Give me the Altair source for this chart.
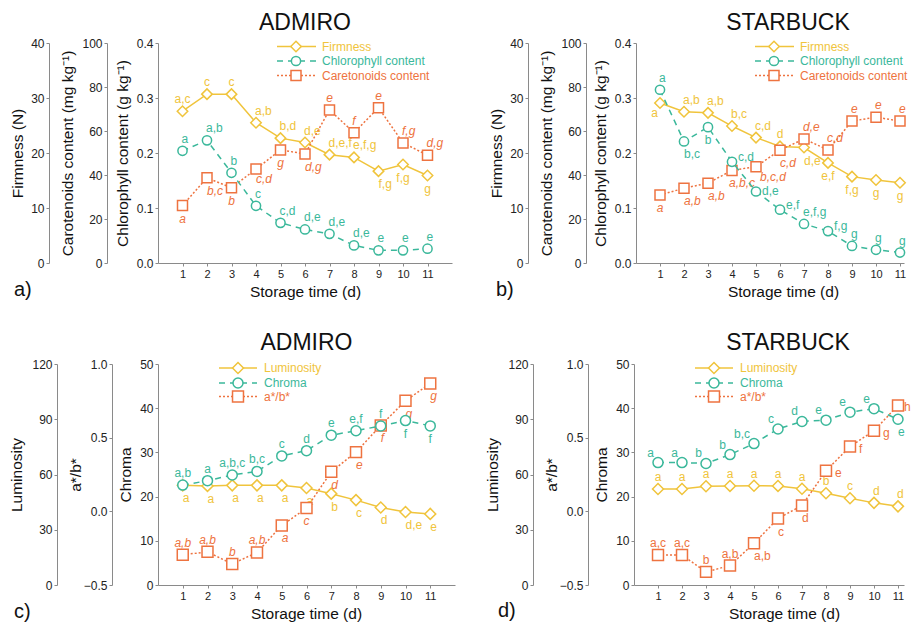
import altair as alt
import pandas as pd

days = list(range(1, 12))

# ---------------- Panel a: ADMIRO (firmness / chlorophyll / carotenoids)
a_firm = [27.6, 30.7, 30.7, 25.5, 22.7, 21.9, 19.7, 19.2, 16.7, 17.9, 15.9]
a_firm_lab = ["a,c", "c", "c", "a,b", "b,d", "d,e", "d,e,f", "e,f,g", "f,g", "f,g", "g"]
a_firm_pos = ["t", "t", "t", "tr", "tr", "tr", "tr", "tr", "br", "b", "b"]
a_chl = [0.204, 0.223, 0.164, 0.104, 0.073, 0.061, 0.053, 0.032, 0.023, 0.023, 0.026]
a_chl_lab = ["a", "a,b", "b", "c", "c,d", "d,e", "d,e", "d,e", "e", "e", "e"]
a_chl_pos = ["tr"] * 11
a_car = [26.1, 38.7, 34.2, 42.7, 51.4, 49.6, 69.6, 59.2, 70.6, 54.6, 49.0]
a_car_lab = ["a", "b,c", "b", "c,d", "g", "d,g", "e", "f", "e", "f,g", "d,g"]
a_car_pos = ["b", "br", "b", "br2", "b", "br", "t", "t", "t", "tr", "tr"]

# ---------------- Panel b: STARBUCK
b_firm = [29.1, 27.5, 27.3, 24.9, 22.8, 21.2, 21.0, 18.2, 15.7, 15.1, 14.6]
b_firm_lab = ["a", "a,b", "a,b", "b,c", "c,d", "d", "d,e", "e,f", "f,g", "g", "g"]
b_firm_pos = ["bl", "tr", "tr", "tr", "tr", "t", "br", "b", "b", "b", "b"]
b_chl = [0.315, 0.221, 0.247, 0.184, 0.130, 0.097, 0.071, 0.058, 0.031, 0.024, 0.019]
b_chl_lab = ["a", "b,c", "b", "c,d", "d,e", "e,f", "e,f,g", "f,g", "g", "g", "g"]
b_chl_pos = ["tr", "br", "b", "r", "r2", "r", "tr", "r", "tr", "tr", "tr"]
b_car = [30.9, 34.0, 36.3, 42.1, 43.8, 51.3, 56.4, 51.4, 64.5, 66.3, 64.5]
b_car_lab = ["a", "a,b", "a,b", "a,b,c", "b,c,d", "c,d", "d,e", "c,d", "e", "e", "e"]
b_car_pos = ["b", "br", "br", "bl2", "br3", "br", "tr", "tr", "tr", "tr", "tr"]

# ---------------- Panel c: ADMIRO (luminosity / chroma / a*/b*)
c_lum = [54.1, 53.8, 54.1, 54.1, 54.1, 52.7, 49.6, 46.1, 42.1, 39.6, 38.6]
c_lum_lab = ["a", "a", "a", "a", "a", "a", "b", "c", "d", "d,e", "e"]
c_lum_pos = ["br"] * 11
c_chr = [22.6, 23.6, 24.9, 25.7, 29.2, 30.4, 33.9, 34.9, 36.0, 37.2, 36.0]
c_chr_lab = ["a,b", "a", "a,b,c", "b,c", "c", "d", "e", "e,f", "f", "f", "f"]
c_chr_pos = ["t", "t", "t", "t", "t", "t", "t", "t", "t", "b", "b"]
c_ab = [-0.295, -0.275, -0.357, -0.279, -0.096, 0.022, 0.268, 0.402, 0.583, 0.750, 0.868]
c_ab_lab = ["a,b", "a,b", "b", "a,b", "a", "c", "d", "e", "f", "g", "g"]
c_ab_pos = ["t", "t", "t", "t", "br", "b", "br", "br", "br", "br", "br"]

# ---------------- Panel d: STARBUCK
d_lum = [52.1, 52.1, 53.6, 53.8, 53.9, 53.8, 52.3, 49.8, 47.1, 44.6, 42.7]
d_lum_lab = ["a", "a", "a", "a", "a", "a", "a", "b", "c", "d", "d"]
d_lum_pos = ["t", "t", "t", "t", "t", "t", "t", "t", "t", "tr", "tr"]
d_chr = [27.7, 27.7, 27.5, 29.5, 32.0, 35.3, 37.0, 37.3, 39.1, 39.9, 37.5]
d_chr_lab = ["a", "a", "b", "b", "b,c", "c", "d", "e", "e", "e", "e"]
d_chr_pos = ["tl", "tl", "tl", "tl", "tl", "tl", "tl", "tl", "tl", "tl", "br"]
d_ab = [-0.297, -0.297, -0.411, -0.368, -0.217, -0.049, 0.040, 0.275, 0.440, 0.547, 0.719]
d_ab_lab = ["a,c", "a,c", "b", "a,b", "a,b", "c", "d", "e", "f", "g", "h"]
d_ab_pos = ["t", "t", "t", "t", "br", "br", "br", "R", "R", "R", "R2"]

top_legend = ["Firmness", "Chlorophyll content", "Caretonoids content"]
bottom_legend = ["Luminosity", "Chroma", "a*/b*"]

YEL, TEAL, ORA = "#F0C43C", "#3BB89B", "#EE7340"
FONT = "Liberation Sans"
DASH_TEAL = [6, 5]
DASH_ORA = [2, 2]

POS = {
    "t": dict(align="center", dx=0, dy=-12),
    "b": dict(align="center", dx=0, dy=13),
    "tr": dict(align="left", dx=-1, dy=-12),
    "br": dict(align="left", dx=0, dy=13),
    "br2": dict(align="left", dx=0, dy=10),
    "br3": dict(align="left", dx=4, dy=10),
    "bl2": dict(align="left", dx=-3, dy=13),
    "tl": dict(align="right", dx=-4, dy=-10),
    "bl": dict(align="right", dx=-2, dy=10),
    "r": dict(align="left", dx=6, dy=-5),
    "r2": dict(align="left", dx=6, dy=-1),
    "R": dict(align="left", dx=9, dy=2),
    "R2": dict(align="left", dx=6, dy=2),
}


def series_layer(values, labels, pos, color, dash, shape, size, domain, ticks, fmt,
                 axis_title, offset, tpad, italic, xmax, title_x):
    df = pd.DataFrame({"day": days, "v": values, "lab": labels, "pos": pos})
    X = alt.X("day:Q", scale=alt.Scale(domain=[0, xmax], nice=False),
              axis=alt.Axis(values=days, title="Storage time (d)", titlePadding=5,
                            titleX=title_x, labelFontSize=11, grid=False))
    Y = alt.Y("v:Q", scale=alt.Scale(domain=domain, nice=False, zero=False),
              axis=alt.Axis(orient="left", offset=offset, values=ticks, format=fmt,
                            title=axis_title, titlePadding=tpad, grid=False))
    base = alt.Chart(df)
    line_kw = dict(color=color, strokeWidth=1.5)
    if dash:
        line_kw["strokeDash"] = dash
    layers = [
        base.mark_line(**line_kw).encode(x=X, y=Y),
        base.mark_point(shape=shape, size=size, filled=True, fill="white", stroke=color,
                        strokeWidth=1.5, opacity=1).encode(x=X, y=Y),
    ]
    for code in sorted(set(pos)):
        p = POS[code]
        layers.append(
            base.transform_filter(alt.datum.pos == code)
            .mark_text(align=p["align"], dx=p["dx"], dy=p["dy"], baseline="middle",
                       fontSize=12, color=color,
                       fontStyle="italic" if italic else "normal")
            .encode(x=X, y=Y, text="lab:N")
        )
    return alt.layer(*layers)


def legend_layers(names, sizes, x0, x1, xm, xt, ys):
    out = []
    styles = [(YEL, None, "diamond"), (TEAL, DASH_TEAL, "circle"), (ORA, DASH_ORA, "square")]
    for name, (c, d, s), sz, y in zip(names, styles, sizes, ys):
        b = alt.Chart(pd.DataFrame({"name": [name]}))
        rk = dict(color=c, strokeWidth=1.5)
        if d:
            rk["strokeDash"] = d
        out.append(b.mark_rule(**rk).encode(x=alt.value(x0), x2=alt.value(x1), y=alt.value(y)))
        out.append(b.mark_point(shape=s, size=sz, filled=True, fill="white", stroke=c,
                                strokeWidth=1.5, opacity=1)
                   .encode(x=alt.value(xm), y=alt.value(y)))
        out.append(b.mark_text(align="left", baseline="middle", fontSize=12, color=c)
                   .encode(x=alt.value(xt), y=alt.value(y), text="name:N"))
    return out


def text_layer(txt, x, y, size, align):
    return (alt.Chart(pd.DataFrame({"t": [txt]}))
            .mark_text(align=align, baseline="alphabetic", fontSize=size, color="#111")
            .encode(x=alt.value(x), y=alt.value(y), text="t:N"))


def top_panel(title, title_x, tag, tag_x, firm, firm_lab, firm_pos, chl, chl_lab, chl_pos,
              car, car_lab, car_pos, off_firm, off_car, W, xmax, xtitle_x):
    H = 220
    sizes = [110, 85, 100]
    layers = [
        series_layer(firm, firm_lab, firm_pos, YEL, None, "diamond", sizes[0], [0, 40],
                     [0, 10, 20, 30, 40], "d", "Firmness (N)", off_firm, 5, False,
                     xmax, xtitle_x),
        series_layer(car, car_lab, car_pos, ORA, DASH_ORA, "square", sizes[2], [0, 100],
                     [0, 20, 40, 60, 80, 100], "d", "Carotenoids content (mg kg\u207b\u00b9)",
                     off_car, 6, True, xmax, xtitle_x),
        series_layer(chl, chl_lab, chl_pos, TEAL, DASH_TEAL, "circle", sizes[1], [0, 0.4],
                     [0, 0.1, 0.2, 0.3, 0.4], ".1f", "Chlorophyll content (g kg\u207b\u00b9)",
                     0, 6, False, xmax, xtitle_x),
    ]
    layers += legend_layers(top_legend, sizes, 119, 158, 138, 164, [3.5, 18, 32.5])
    layers.append(text_layer(title, title_x, -13, 23, "center"))
    layers.append(text_layer(tag, tag_x, 253, 20, "left"))
    return alt.layer(*layers).resolve_scale(y="independent").properties(width=W, height=H)


def bottom_panel(title, title_x, tag, tag_x, tag_y, lum, lum_lab, lum_pos, chr_, chr_lab,
                 chr_pos, ab, ab_lab, ab_pos, ab_italic, W, xmax, xtitle_x):
    H = 221
    sizes = [120, 100, 120]
    layers = [
        series_layer(lum, lum_lab, lum_pos, YEL, None, "diamond", sizes[0], [0, 120],
                     [0, 30, 60, 90, 120], "d", "Luminosity", 101, 7, False, xmax, xtitle_x),
        series_layer(ab, ab_lab, ab_pos, ORA, DASH_ORA, "square", sizes[2], [-0.5, 1.0],
                     [-0.5, 0, 0.5, 1.0], ".1f", "a*/b*", 46, 0, ab_italic, xmax, xtitle_x),
        series_layer(chr_, chr_lab, chr_pos, TEAL, DASH_TEAL, "circle", sizes[1], [0, 50],
                     [0, 10, 20, 30, 40, 50], "d", "Chroma", 0, 6, False, xmax, xtitle_x),
    ]
    layers += legend_layers(bottom_legend, sizes, 61, 99, 80, 106, [4, 19, 32.5])
    layers.append(text_layer(title, title_x, -14, 23, "center"))
    layers.append(text_layer(tag, tag_x, tag_y, 20, "left"))
    return alt.layer(*layers).resolve_scale(y="independent").properties(width=W, height=H)


pa = top_panel("ADMIRO", 147, "a)", -144, a_firm, a_firm_lab, a_firm_pos, a_chl, a_chl_lab,
               a_chl_pos, a_car, a_car_lab, a_car_pos, 109, 51, 294, 12, 147)
pb = top_panel("STARBUCK", 152, "b)", -140, b_firm, b_firm_lab, b_firm_pos, b_chl, b_chl_lab,
               b_chl_pos, b_car, b_car_lab, b_car_pos, 108, 50, 268, 268 / 24.0, 147)
pc = bottom_panel("ADMIRO", 148.5, "c)", -144, 254, c_lum, c_lum_lab, c_lum_pos, c_chr,
                  c_chr_lab, c_chr_pos, c_ab, c_ab_lab, c_ab_pos, True, 297, 12, 148)
pd_ = bottom_panel("STARBUCK", 154, "d)", -136, 253, d_lum, d_lum_lab, d_lum_pos, d_chr,
                   d_chr_lab, d_chr_pos, d_ab, d_ab_lab, d_ab_pos, False, 270, 270 / 24.0,
                   150)

chart = (
    alt.vconcat(
        alt.hconcat(pa, pb, spacing=37),
        alt.hconcat(pc, pd_, spacing=30),
        spacing=32,
    )
    .properties(padding={"left": 1, "top": 4, "right": 0, "bottom": 0})
    .configure(font=FONT)
    .configure_axis(domainColor="#8a8a8a", tickColor="#8a8a8a", labelColor="#222222",
                    titleColor="#111111", labelFontSize=12, titleFontSize=15.5,
                    titleFontWeight="normal", tickSize=3, labelFont=FONT, titleFont=FONT,
                    grid=False)
    .configure_view(stroke=None)
)

chart.save("out.html", embed_options={"renderer": "svg", "actions": False})
